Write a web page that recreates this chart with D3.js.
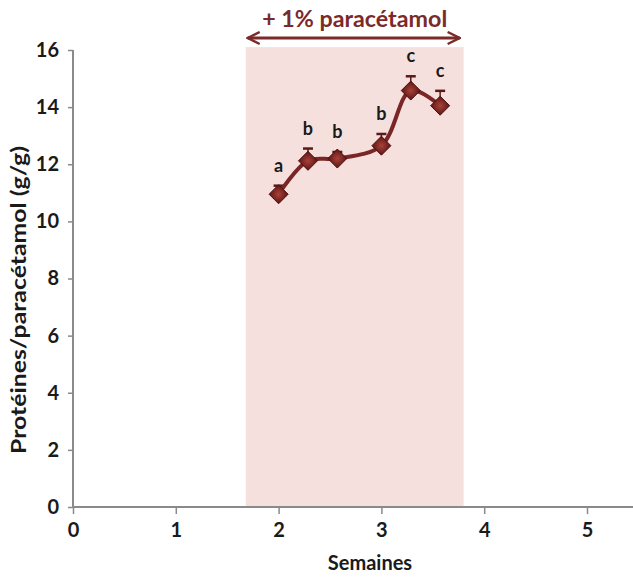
<!DOCTYPE html>
<html><head><meta charset="utf-8">
<script src="https://cdn.jsdelivr.net/npm/d3@7"></script>
<style>body{margin:0;background:#fff}svg{display:block}text{font-family:Lato,"Open Sans",sans-serif;font-weight:bold}</style>
</head><body><svg id="c" width="633" height="581"></svg>
<script>
const weeks = [2, 16/7, 18/7, 3, 23/7, 25/7];
const values = [10.95, 12.12, 12.2, 12.65, 14.58, 14.05];
const errors = [0.3, 0.43, 0.23, 0.41, 0.5, 0.52];
const letters = ["a", "b", "b", "b", "c", "c"];
const xTicks = [0, 1, 2, 3, 4, 5];
const yTicks = [0, 2, 4, 6, 8, 10, 12, 14, 16];
const treatment = [1.68, 3.8];
const treatmentLabel = "+ 1% paracétamol";

const svg = d3.select("#c");
const x = d3.scaleLinear().domain([0, 5]).range([73, 587]);
const y = d3.scaleLinear().domain([0, 16]).range([507, 50]);
const dark = "#7b2a2a";

// shaded treatment band
svg.append("rect").attr("x", x(treatment[0])).attr("y", y(16.1))
  .attr("width", x(treatment[1]) - x(treatment[0])).attr("height", y(0) - y(16.1))
  .attr("fill", "#f5e0de");

// arrow
const defs = svg.append("defs");
defs.append("marker").attr("id", "ah").attr("viewBox", "0 0 10 10").attr("refX", 9).attr("refY", 5)
  .attr("markerWidth", 5).attr("markerHeight", 5).attr("orient", "auto-start-reverse")
  .append("path").attr("d", "M1,1 L9,5 L1,9").attr("fill", "none").attr("stroke", dark).attr("stroke-width", 1.6);
svg.append("line").attr("x1", x(treatment[0]) + 2).attr("x2", x(treatment[1]) - 4)
  .attr("y1", 38).attr("y2", 38).attr("stroke", dark).attr("stroke-width", 3)
  .attr("marker-start", "url(#ah)").attr("marker-end", "url(#ah)");
svg.append("text").attr("x", (x(treatment[0]) + x(treatment[1])) / 2).attr("y", 27)
  .attr("text-anchor", "middle").attr("font-size", 22).attr("fill", dark)
  .attr("textLength", 185).attr("lengthAdjust", "spacingAndGlyphs").text(treatmentLabel);

// axes
const axisColor = "#8a8a8a";
const xAxis = svg.append("g").attr("transform", `translate(0,${y(0)})`)
  .call(d3.axisBottom(x).tickValues(xTicks).tickSize(7).tickFormat(d3.format("d")));
xAxis.select(".domain").remove();
xAxis.append("line").attr("x1", x(0)).attr("x2", 633).attr("stroke", axisColor).attr("stroke-width", 2);
const yAxis = svg.append("g").attr("transform", `translate(${x(0)},0)`)
  .call(d3.axisLeft(y).tickValues(yTicks).tickSize(5));
yAxis.select(".domain").remove();
yAxis.append("line").attr("y1", y(16)).attr("y2", y(0) + 1).attr("stroke", axisColor).attr("stroke-width", 2);
svg.selectAll(".tick line").attr("stroke", axisColor).attr("stroke-width", 1.5);
svg.selectAll(".tick text").attr("font-size", 20).attr("fill", "#1a1a1a")
  .attr("font-family", "Lato, sans-serif").attr("font-weight", "bold");
xAxis.selectAll(".tick text").attr("dy", "1.0em");
yAxis.selectAll(".tick text").attr("dx", "-0.3em");

// axis titles
svg.append("text").attr("x", 370).attr("y", 570).attr("text-anchor", "middle")
  .attr("font-size", 20).attr("fill", "#1a1a1a").text("Semaines");
svg.append("text").attr("transform", `translate(26,300) rotate(-90)`).attr("text-anchor", "middle")
  .attr("font-size", 21).attr("fill", "#1a1a1a").attr("textLength", 308)
  .attr("lengthAdjust", "spacingAndGlyphs").text("Protéines/paracétamol (g/g)");

// data
const pts = weeks.map((w, i) => ({w, v: values[i], e: errors[i], l: letters[i]}));
// error bars
const eb = svg.append("g");
pts.forEach(p => {
  eb.append("line").attr("x1", x(p.w)).attr("x2", x(p.w)).attr("y1", y(p.v)).attr("y2", y(p.v + p.e))
    .attr("stroke", "#5a1a1a").attr("stroke-width", 1.5);
  eb.append("line").attr("x1", x(p.w) - 5).attr("x2", x(p.w) + 5).attr("y1", y(p.v + p.e)).attr("y2", y(p.v + p.e))
    .attr("stroke", "#5a1a1a").attr("stroke-width", 2.5);
});
svg.append("path").datum(pts)
  .attr("d", d3.line().x(d => x(d.w)).y(d => y(d.v)).curve(d3.curveCatmullRom.alpha(0.5)))
  .attr("fill", "none").attr("stroke", "#7a2626").attr("stroke-width", 4);
const grad = defs.append("radialGradient").attr("id", "mg");
grad.append("stop").attr("offset", "0%").attr("stop-color", "#a8423a");
grad.append("stop").attr("offset", "100%").attr("stop-color", "#5e1414");
svg.selectAll(".mk").data(pts).join("path").attr("class", "mk")
  .attr("d", d3.symbol(d3.symbolDiamond2, 230))
  .attr("transform", d => `translate(${x(d.w)},${y(d.v)})`)
  .attr("fill", "url(#mg)").attr("stroke", "#4a0f0f").attr("stroke-width", 1);
svg.selectAll(".lb").data(pts).join("text").attr("class", "lb")
  .attr("x", d => x(d.w)).attr("y", d => y(d.v + d.e) - 14)
  .attr("text-anchor", "middle").attr("font-size", 18).attr("fill", "#1a1a1a").text(d => d.l);
</script></body></html>
